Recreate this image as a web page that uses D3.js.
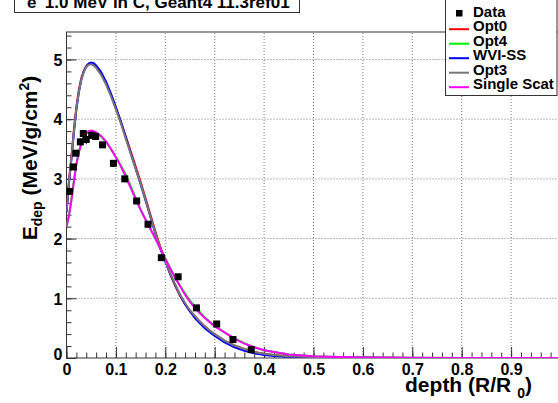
<!DOCTYPE html>
<html>
<head>
<meta charset="utf-8">
<script src="https://cdn.jsdelivr.net/npm/d3@7"></script>
<style>
  body { margin: 0; background: #fff; }
  text { font-family: "Liberation Sans", Arial, Helvetica, sans-serif; font-weight: bold; fill: #000; }
</style>
</head>
<body>
<div class="chart"></div>
<script>
// Depth grid shared by the simulated curves (R/R0)
var depth = [0, 0.005, 0.01, 0.015, 0.02, 0.025, 0.03, 0.035, 0.04, 0.045, 0.05, 0.055, 0.06,
  0.07, 0.08, 0.09, 0.10, 0.11, 0.12, 0.13, 0.14, 0.15, 0.16, 0.17, 0.18, 0.19, 0.20,
  0.21, 0.22, 0.23, 0.24, 0.25, 0.26, 0.27, 0.28, 0.29, 0.30, 0.32, 0.34, 0.36, 0.38,
  0.40, 0.42, 0.45, 0.50, 0.55, 0.60, 0.70, 0.80, 0.90, 1.0];

// Edep (MeV/g/cm2) per physics list
var opt0 = [2.47, 2.97, 3.38, 3.83, 4.21, 4.49, 4.69, 4.81, 4.89, 4.93, 4.94, 4.92, 4.88,
  4.77, 4.61, 4.41, 4.19, 3.96, 3.71, 3.46, 3.21, 2.95, 2.68, 2.40, 2.12, 1.86, 1.63,
  1.40, 1.21, 1.04, 0.90, 0.79, 0.70, 0.61, 0.53, 0.46, 0.40, 0.29, 0.21, 0.15, 0.10,
  0.07, 0.05, 0.03, 0.015, 0.008, 0.004, 0.002, 0.001, 0.0005, 0];
var opt4 = [2.21, 2.40, 2.66, 2.97, 3.25, 3.45, 3.60, 3.70, 3.76, 3.79, 3.80, 3.79, 3.77,
  3.71, 3.62, 3.50, 3.37, 3.23, 3.07, 2.88, 2.68, 2.49, 2.32, 2.16, 2.00, 1.83, 1.67,
  1.51, 1.35, 1.21, 1.08, 0.96, 0.86, 0.77, 0.68, 0.61, 0.54, 0.43, 0.33, 0.25, 0.18,
  0.13, 0.10, 0.06, 0.03, 0.016, 0.009, 0.004, 0.002, 0.001, 0];
var wviss = [2.44, 2.93, 3.33, 3.78, 4.16, 4.45, 4.66, 4.80, 4.88, 4.93, 4.95, 4.94, 4.90,
  4.79, 4.63, 4.43, 4.20, 3.96, 3.70, 3.43, 3.17, 2.91, 2.64, 2.36, 2.08, 1.83, 1.61,
  1.41, 1.22, 1.05, 0.90, 0.78, 0.67, 0.58, 0.50, 0.43, 0.37, 0.26, 0.18, 0.12, 0.08,
  0.05, 0.035, 0.02, 0.01, 0.006, 0.003, 0.002, 0.001, 0.0005, 0];
var opt3 = [2.45, 2.95, 3.35, 3.80, 4.18, 4.46, 4.66, 4.79, 4.87, 4.91, 4.92, 4.90, 4.86,
  4.74, 4.58, 4.38, 4.16, 3.93, 3.67, 3.42, 3.17, 2.92, 2.65, 2.37, 2.09, 1.84, 1.62,
  1.42, 1.23, 1.06, 0.92, 0.80, 0.70, 0.61, 0.53, 0.46, 0.40, 0.29, 0.21, 0.15, 0.10,
  0.07, 0.05, 0.03, 0.015, 0.008, 0.004, 0.002, 0.001, 0.0005, 0];
var singleScat = [2.19, 2.38, 2.64, 2.96, 3.24, 3.44, 3.59, 3.70, 3.76, 3.80, 3.81, 3.80, 3.78,
  3.72, 3.63, 3.50, 3.36, 3.21, 3.04, 2.85, 2.66, 2.48, 2.32, 2.16, 2.00, 1.83, 1.66,
  1.50, 1.34, 1.20, 1.06, 0.94, 0.84, 0.75, 0.67, 0.60, 0.53, 0.43, 0.32, 0.24, 0.18,
  0.13, 0.10, 0.06, 0.03, 0.016, 0.009, 0.004, 0.002, 0.001, 0];

// Measured data points
var dataDepth = [0.006, 0.014, 0.019, 0.028, 0.034, 0.040, 0.051, 0.059, 0.073, 0.095,
  0.118, 0.142, 0.165, 0.192, 0.226, 0.263, 0.304, 0.337, 0.374];
var dataEdep = [2.79, 3.20, 3.43, 3.62, 3.76, 3.66, 3.73, 3.71, 3.57, 3.26,
  3.00, 2.63, 2.24, 1.68, 1.36, 0.84, 0.57, 0.31, 0.14];
var dataErr = [0.05, 0.05, 0.05, 0.06, 0.06, 0.08, 0.06, 0.06, 0.05, 0.05,
  0.04, 0.04, 0.04, 0.03, 0.03, 0.03, 0.02, 0.02, 0.02];

var seriesNames = ["Opt0", "Opt4", "WVI-SS", "Opt3", "Single Scat"];
var seriesValues = [opt0, opt4, wviss, opt3, singleScat];
var seriesColors = ["#ff0000", "#00ee00", "#0000ff", "#777777", "#ff00ff"];

var xTickValues = [0, 0.1, 0.2, 0.3, 0.4, 0.5, 0.6, 0.7, 0.8, 0.9];
var yTickValues = [0, 1, 2, 3, 4, 5];

// Layout
var width = 558,
  height = 403,
  frameLeft = 66.5,
  frameRight = 560.5,
  frameTop = 32,
  frameBottom = 358;

var svg = d3.select(".chart").append("svg")
  .attr("width", width)
  .attr("height", height);

var x = d3.scaleLinear().domain([0, 1]).range([frameLeft, frameRight]);
var y = d3.scaleLinear().domain([0, 5.46]).range([frameBottom, frameTop]);

svg.append("defs").append("clipPath").attr("id", "frame")
  .append("rect")
    .attr("x", frameLeft).attr("y", frameTop)
    .attr("width", frameRight - frameLeft).attr("height", frameBottom - frameTop);

// dotted grid
var grid = svg.append("g").attr("stroke", "#777").attr("stroke-dasharray", "1,2");
grid.selectAll("line.gx")
    .data(xTickValues.slice(1))
  .enter().append("line")
    .attr("x1", d => x(d)).attr("x2", d => x(d))
    .attr("y1", frameBottom).attr("y2", frameTop);
grid.selectAll("line.gy")
    .data(yTickValues.slice(1))
  .enter().append("line")
    .attr("y1", d => y(d)).attr("y2", d => y(d))
    .attr("x1", frameLeft).attr("x2", frameRight);

// axes, ROOT style ticks inside the frame
var xMinor = d3.range(0, 1.001, 0.02);
var yMinor = d3.range(0, 5.46, 0.2);

svg.append("g")
    .attr("transform", "translate(0," + frameBottom + ")")
    .call(d3.axisBottom(x).tickValues(xMinor).tickSize(-5.5).tickFormat("").tickSizeOuter(0))
    .call(g => g.select(".domain").remove());
var xAxis = svg.append("g")
    .attr("transform", "translate(0," + frameBottom + ")")
    .call(d3.axisBottom(x).tickValues(xTickValues).tickSize(-11).tickSizeOuter(0)
      .tickFormat(d => d === 0 ? "0" : d3.format(".1f")(d)));
xAxis.select(".domain").remove();
xAxis.selectAll("text")
    .attr("y", 5.5)
    .style("font-size", "16px")
    .style("font-family", '"Liberation Sans", Arial, sans-serif');

svg.append("g")
    .attr("transform", "translate(" + frameLeft + ",0)")
    .call(d3.axisLeft(y).tickValues(yMinor).tickSize(-5).tickFormat("").tickSizeOuter(0))
    .call(g => g.select(".domain").remove());
var yAxis = svg.append("g")
    .attr("transform", "translate(" + frameLeft + ",0)")
    .call(d3.axisLeft(y).tickValues(yTickValues).tickSize(-10).tickSizeOuter(0).tickFormat(d3.format("d")));
yAxis.select(".domain").remove();
yAxis.selectAll("text")
    .attr("x", -4)
    .attr("dy", "0.36em")
    .style("font-size", "16px")
    .style("font-family", '"Liberation Sans", Arial, sans-serif');
svg.selectAll(".tick line").attr("stroke", "#333");
// nudge the y "0" label up like ROOT does at the corner
yAxis.selectAll(".tick").filter(d => d === 0).select("text").attr("dy", "0.1em");

// frame
svg.append("rect")
    .attr("x", frameLeft).attr("y", frameTop)
    .attr("width", frameRight - frameLeft).attr("height", frameBottom - frameTop)
    .attr("fill", "none").attr("stroke", "#333").attr("stroke-width", 1);

// curves
var line = d3.line()
  .x(function(d, i) { return x(depth[i]); })
  .y(function(d) { return y(d); });

var plot = svg.append("g").attr("clip-path", "url(#frame)");
plot.selectAll("path.curve")
    .data(seriesValues)
  .enter().append("path")
    .attr("class", "curve")
    .attr("d", line)
    .attr("fill", "none")
    .attr("stroke", (d, i) => seriesColors[i])
    .attr("stroke-width", 2);

// data with error bars
var pts = dataDepth.map((d, i) => ({ x: d, y: dataEdep[i], e: dataErr[i] }));
plot.selectAll("line.err")
    .data(pts)
  .enter().append("line")
    .attr("x1", d => x(d.x)).attr("x2", d => x(d.x))
    .attr("y1", d => y(d.y - d.e)).attr("y2", d => y(d.y + d.e))
    .attr("stroke", "#000").attr("stroke-width", 1);
plot.selectAll("rect.pt")
    .data(pts)
  .enter().append("rect")
    .attr("x", d => x(d.x) - 3.5).attr("y", d => y(d.y) - 3.5)
    .attr("width", 7).attr("height", 7)
    .attr("fill", "#000");

// axis titles
svg.append("text")
    .attr("text-anchor", "end")
    .attr("x", 532).attr("y", 392)
    .style("font-size", "21px")
    .call(t => {
      t.append("tspan").text("depth (R/R");
      t.append("tspan").attr("dx", 6).attr("dy", 6).style("font-size", "14px").text("0");
      t.append("tspan").attr("dy", -6).text(")");
    });

svg.append("text")
    .attr("text-anchor", "middle")
    .attr("transform", "translate(37,158) rotate(-90)")
    .style("font-size", "21px")
    .call(t => {
      t.append("tspan").text("E");
      t.append("tspan").attr("dy", 5).style("font-size", "14px").text("dep");
      t.append("tspan").attr("dy", -5).text(" (MeV/g/cm");
      t.append("tspan").attr("dy", -8).style("font-size", "14px").text("2");
      t.append("tspan").attr("dy", 8).text(")");
    });

// title box
svg.append("rect")
    .attr("x", 14.5).attr("y", -5).attr("width", 285).attr("height", 17.5)
    .attr("fill", "#fff").attr("stroke", "#333");
svg.append("text")
    .attr("x", 27).attr("y", 7.5)
    .style("font-size", "17px")
    .call(t => {
      t.append("tspan").text("e");
      t.append("tspan").attr("dy", -7).style("font-size", "11px").text("-");
      t.append("tspan").attr("dy", 7).text(" 1.0 MeV in C, Geant4 11.3ref01");
    });

// legend
var legend = svg.append("g");
legend.append("rect")
    .attr("x", 445.5).attr("y", -2).attr("width", 111.5).attr("height", 97.5)
    .attr("fill", "#fff").attr("stroke", "#333");
legend.append("rect")
    .attr("x", 456).attr("y", 10).attr("width", 6.5).attr("height", 6.5).attr("fill", "#000");
legend.append("text").attr("x", 473).attr("y", 16.7).style("font-size", "15px").text("Data");
var entries = legend.selectAll("g.entry")
    .data(seriesNames)
  .enter().append("g")
    .attr("transform", (d, i) => "translate(0," + (31.2 + 14.5 * i) + ")");
entries.append("line")
    .attr("x1", 449).attr("x2", 469).attr("y1", -2).attr("y2", -2)
    .attr("stroke", (d, i) => seriesColors[i]).attr("stroke-width", 2);
entries.append("text")
    .attr("x", 473).attr("y", 0)
    .style("font-size", "15px")
    .text(d => d);
</script>
</body>
</html>
